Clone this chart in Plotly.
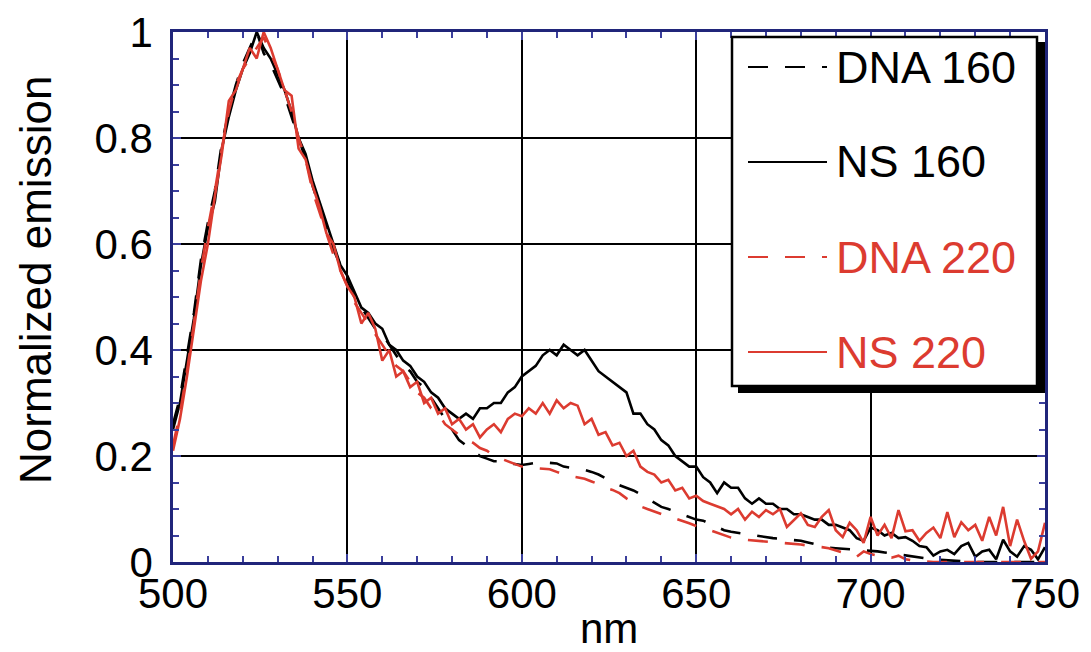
import plotly.graph_objects as go

wavelength = list(range(500, 751, 2))

dna_160 = [
    0.26, 0.31, 0.39, 0.47, 0.57, 0.64, 0.70, 0.79, 0.85, 0.90,
    0.94, 0.97, 1.00, 0.96, 0.94, 0.91, 0.88, 0.84, 0.80, 0.76,
    0.71, 0.67, 0.63, 0.59, 0.56, 0.53, 0.50, 0.48, 0.46, 0.44,
    0.43, 0.41, 0.39, 0.37, 0.36, 0.34, 0.33, 0.31, 0.29, 0.27,
    0.25, 0.23, 0.22, 0.21, 0.20, 0.195, 0.19, 0.19, 0.185, 0.185,
    0.183, 0.185, 0.187, 0.186, 0.187, 0.186, 0.18, 0.178, 0.176, 0.174,
    0.17, 0.165, 0.158, 0.15, 0.145, 0.14, 0.135, 0.128, 0.12, 0.113,
    0.104, 0.10, 0.095, 0.09, 0.085, 0.08, 0.078, 0.072, 0.066, 0.06,
    0.057, 0.055, 0.052, 0.05, 0.048, 0.047, 0.045, 0.044, 0.043, 0.042,
    0.04, 0.037, 0.034, 0.03, 0.027, 0.026, 0.025, 0.024, 0.023, 0.023,
    0.022, 0.02, 0.018, 0.016, 0.014, 0.012, 0.01, 0.008, 0.006, 0.005,
    0.004, 0.003, 0.002, 0.002, 0.001, 0.0, 0.0, 0.0, 0.0, 0.0,
    0.0, 0.0, 0.0, 0.0, 0.0, 0.0,
]

ns_160 = [
    0.25, 0.30, 0.38, 0.46, 0.56, 0.63, 0.68, 0.78, 0.84, 0.89,
    0.93, 0.96, 1.00, 0.97, 0.95, 0.92, 0.89, 0.85, 0.80, 0.77,
    0.72, 0.68, 0.64, 0.60, 0.56, 0.54, 0.51, 0.48, 0.47, 0.45,
    0.44, 0.41, 0.40, 0.38, 0.37, 0.35, 0.34, 0.32, 0.31, 0.29,
    0.28, 0.27, 0.28, 0.27, 0.29, 0.29, 0.30, 0.30, 0.32, 0.33,
    0.35, 0.36, 0.37, 0.39, 0.40, 0.39, 0.41, 0.40, 0.39, 0.40,
    0.38, 0.36, 0.35, 0.34, 0.33, 0.32, 0.28, 0.28, 0.26, 0.25,
    0.23, 0.22, 0.20, 0.19, 0.18, 0.18, 0.16, 0.15, 0.13, 0.15,
    0.14, 0.14, 0.12, 0.11, 0.12, 0.11, 0.11, 0.10, 0.10, 0.09,
    0.09, 0.085, 0.08, 0.08, 0.07, 0.07, 0.065, 0.06, 0.045, 0.04,
    0.065, 0.06, 0.05, 0.055, 0.045, 0.047, 0.04, 0.03, 0.028, 0.012,
    0.02, 0.023, 0.015, 0.03, 0.036, 0.01, 0.02, 0.023, 0.005, 0.042,
    0.02, 0.01, 0.03, 0.023, 0.005, 0.028,
]

dna_220 = [
    0.22, 0.28, 0.36, 0.45, 0.55, 0.63, 0.70, 0.78, 0.85, 0.90,
    0.93, 0.95, 0.97, 0.99, 0.96, 0.93, 0.89, 0.85, 0.80, 0.76,
    0.70, 0.66, 0.62, 0.58, 0.55, 0.52, 0.49, 0.47, 0.45, 0.43,
    0.41, 0.39, 0.37, 0.36, 0.34, 0.32, 0.31, 0.29, 0.28, 0.26,
    0.25, 0.24, 0.23, 0.225, 0.215, 0.21, 0.20, 0.195, 0.19, 0.185,
    0.18, 0.178, 0.177, 0.176, 0.175, 0.17, 0.165, 0.162, 0.16, 0.157,
    0.152, 0.147, 0.14, 0.136, 0.13, 0.12, 0.112, 0.105, 0.10, 0.095,
    0.09, 0.086, 0.082, 0.078, 0.073, 0.068, 0.062, 0.06, 0.055, 0.05,
    0.046, 0.043, 0.042, 0.04, 0.039, 0.038, 0.037, 0.036, 0.035, 0.034,
    0.033, 0.031, 0.03, 0.028, 0.026, 0.022, 0.018, 0.012, 0.01, 0.02,
    0.015, 0.012, 0.01, 0.008, 0.012, 0.005, 0.003, 0.002, 0.0, 0.0,
    0.0, 0.0, 0.0, 0.0, 0.0, 0.0, 0.0, 0.0, 0.0, 0.0,
    0.0, 0.0, 0.0, 0.0, 0.0, 0.0,
]

ns_220 = [
    0.21, 0.27, 0.35, 0.44, 0.53, 0.60, 0.69, 0.77, 0.87, 0.89,
    0.93, 0.97, 0.95, 1.00, 0.97, 0.93, 0.89, 0.88, 0.78, 0.76,
    0.71, 0.67, 0.62, 0.60, 0.55, 0.52, 0.50, 0.45, 0.47, 0.44,
    0.38, 0.40, 0.35, 0.36, 0.33, 0.34, 0.30, 0.31, 0.28, 0.29,
    0.26, 0.27, 0.25, 0.26, 0.235, 0.25, 0.26, 0.245, 0.27, 0.28,
    0.275, 0.29, 0.28, 0.30, 0.28, 0.305, 0.29, 0.30, 0.295, 0.26,
    0.27, 0.24, 0.245, 0.22, 0.225, 0.20, 0.21, 0.18, 0.17, 0.165,
    0.15, 0.155, 0.135, 0.14, 0.12, 0.125, 0.115, 0.11, 0.105, 0.10,
    0.09, 0.10, 0.08, 0.095, 0.085, 0.098, 0.09, 0.10, 0.066, 0.08,
    0.092, 0.07, 0.066, 0.085, 0.098, 0.06, 0.047, 0.074, 0.06, 0.036,
    0.085, 0.05, 0.07, 0.045, 0.098, 0.058, 0.06, 0.04, 0.055, 0.065,
    0.045, 0.094, 0.047, 0.075, 0.06, 0.07, 0.04, 0.085, 0.05, 0.104,
    0.03, 0.08, 0.04, 0.006, 0.02, 0.074,
]

x_ticks = [500, 550, 600, 650, 700, 750]
y_ticks = [0, 0.2, 0.4, 0.6, 0.8, 1]
y_tick_text = ["0", "0.2", "0.4", "0.6", "0.8", "1"]

series_names = ["DNA 160", "NS 160", "DNA 220", "NS 220"]
series_values = [dna_160, ns_160, dna_220, ns_220]

BLACK = "#000000"
RED = "#dc3b30"
NAVY = "#20257a"
TICK = "#3b3f9c"
FONT = "Liberation Sans, Arial, Helvetica, sans-serif"
DASH = "20px,17px"

colors = [BLACK, BLACK, RED, RED]
dashes = [DASH, "solid", DASH, "solid"]

W, H = 1091, 652
L, R, T, B = 173, 1045, 32, 562


def px(xp, yp):
    return (xp - L) / (R - L), (B - yp) / (B - T)


fig = go.Figure()
for name, vals, c, d in zip(series_names, series_values, colors, dashes):
    fig.add_trace(go.Scatter(
        x=wavelength, y=vals, mode="lines", name=name,
        line=dict(color=c, width=2.6, dash=d), showlegend=False,
    ))

shapes = []
# legend shadow and box
x0, y0 = px(738, 393)
x1, y1 = px(1045, 42)
shapes.append(dict(type="rect", xref="paper", yref="paper", x0=x0, y0=y0, x1=x1, y1=y1,
                   fillcolor="black", line=dict(width=0), layer="above"))
x0, y0 = px(732, 386)
x1, y1 = px(1037, 37)
shapes.append(dict(type="rect", xref="paper", yref="paper", x0=x0, y0=y0, x1=x1, y1=y1,
                   fillcolor="white", line=dict(color="black", width=2.5), layer="above"))

annotations = []
entry_y = [67, 162, 257, 352]
for name, c, d, ey in zip(series_names, colors, dashes, entry_y):
    lx0, ly = px(748, ey)
    lx1, _ = px(827, ey)
    shapes.append(dict(type="line", xref="paper", yref="paper", x0=lx0, x1=lx1, y0=ly, y1=ly,
                       line=dict(color=c, width=2, dash=d), layer="above"))
    tx, _ = px(834, ey)
    annotations.append(dict(text=name, xref="paper", yref="paper", x=tx, y=ly,
                            xanchor="left", yanchor="middle", showarrow=False,
                            font=dict(family=FONT, size=45, color=c)))

# axis titles
ax_, ay_ = px(609, 628)
annotations.append(dict(text="nm", xref="paper", yref="paper", x=ax_, y=ay_,
                        xanchor="center", yanchor="middle", showarrow=False,
                        font=dict(family=FONT, size=42, color="black")))
ax_, ay_ = px(35, 280)
annotations.append(dict(text="Normalized emission", xref="paper", yref="paper", x=ax_, y=ay_,
                        xanchor="center", yanchor="middle", showarrow=False, textangle=-90,
                        font=dict(family=FONT, size=44, color="black")))

axis_common = dict(
    showline=True, linecolor=NAVY, linewidth=2.5, mirror="allticks",
    ticks="inside", ticklen=8, tickcolor=TICK, tickwidth=1.5,
    showgrid=True, gridcolor="black", gridwidth=2.2, zeroline=False,
    tickfont=dict(family=FONT, size=42, color="black"),
)

fig.update_layout(
    width=W, height=H,
    margin=dict(l=L, r=W - R, t=T, b=H - B, autoexpand=False),
    paper_bgcolor="white", plot_bgcolor="white",
    xaxis=dict(range=[500, 750], tickvals=x_ticks, ticklabelstandoff=-7,
               minor=dict(dtick=10, ticks="inside", ticklen=6, tickcolor=TICK, tickwidth=1.5, showgrid=False),
               **axis_common),
    yaxis=dict(range=[0, 1], tickvals=y_ticks, ticktext=y_tick_text, ticklabelstandoff=9,
               minor=dict(dtick=0.05, ticks="inside", ticklen=6, tickcolor=TICK, tickwidth=1.5, showgrid=False),
               **axis_common),
    shapes=shapes, annotations=annotations, showlegend=False,
)

fig.write_html("out.html")
